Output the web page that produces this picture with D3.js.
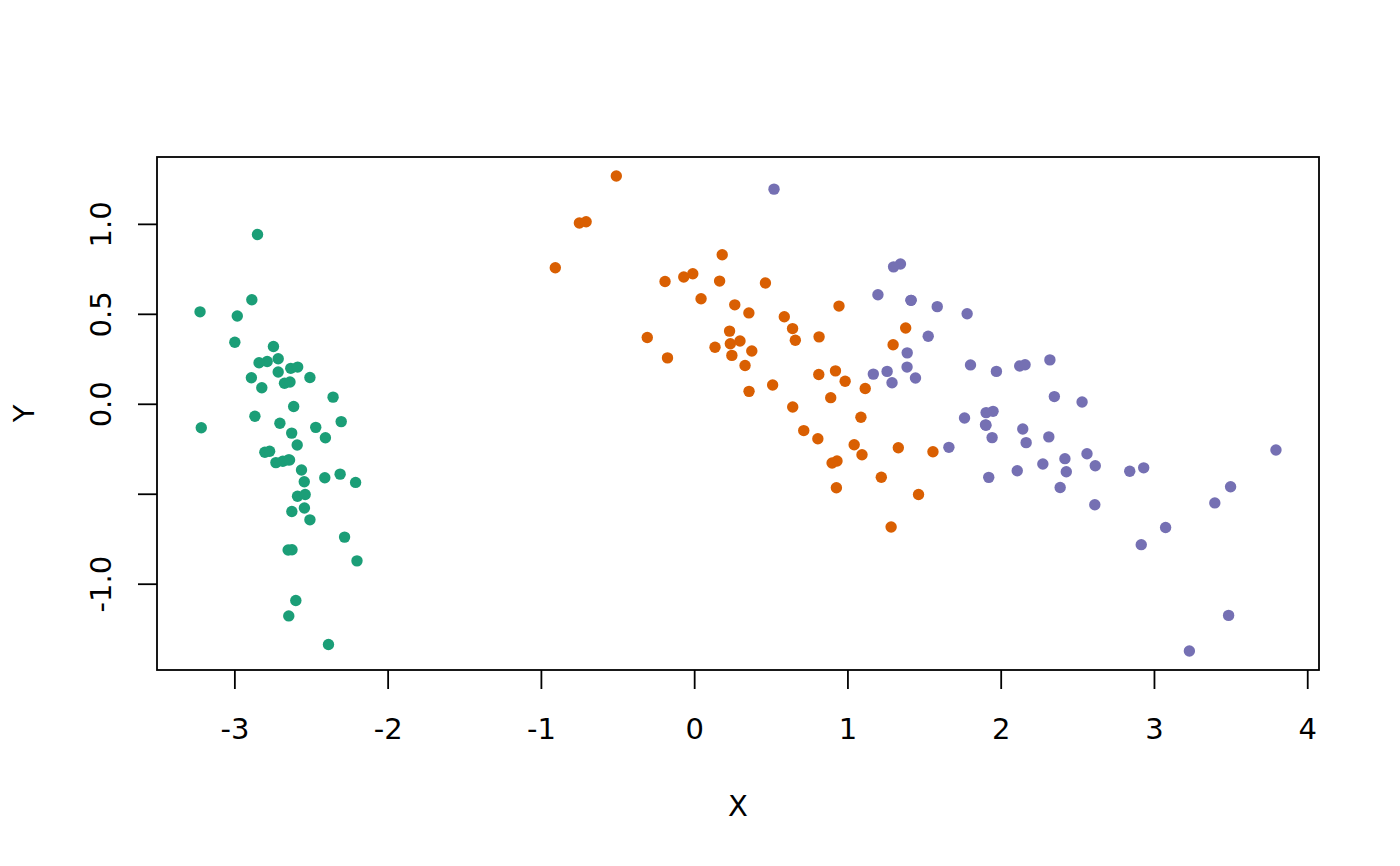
<!DOCTYPE html>
<html>
<head>
<meta charset="utf-8">
<script src="https://cdn.jsdelivr.net/npm/d3@7"></script>
<style>
  body { margin: 0; background: #fff; }
  text { font-family: "DejaVu Sans", sans-serif; fill: #000; }
</style>
</head>
<body>
<div id="chart"></div>
<script>
// three groups, first two principal components
var setosaX = [-2.684,-2.714,-2.889,-2.745,-2.729,-2.281,-2.821,-2.626,-2.886,-2.673,-2.507,-2.613,-2.786,-3.224,-2.645,-2.386,-2.624,-2.648,-2.200,-2.588,-2.310,-2.544,-3.216,-2.303,-2.356,-2.507,-2.469,-2.562,-2.640,-2.632,-2.587,-2.410,-2.649,-2.599,-2.637,-2.866,-2.625,-2.801,-2.981,-2.590,-2.770,-2.849,-2.997,-2.406,-2.209,-2.714,-2.538,-2.839,-2.543,-2.703];
var setosaY = [-0.319,0.177,0.145,0.318,-0.327,-0.741,0.089,-0.163,0.578,0.114,-0.645,-0.015,0.235,0.511,-1.179,-1.338,-0.811,-0.312,-0.873,-0.514,-0.391,-0.433,-0.133,-0.099,0.037,0.146,-0.131,-0.368,-0.312,0.197,0.204,-0.411,-0.813,-1.093,0.121,-0.069,-0.599,-0.269,0.488,-0.229,-0.264,0.941,0.342,-0.189,-0.437,0.250,-0.504,0.228,-0.579,-0.108];

var versicolorX = [1.285,0.932,1.464,0.183,1.088,0.642,1.095,-0.749,1.044,-0.009,-0.508,0.512,0.265,0.985,-0.174,0.928,0.660,0.236,0.945,0.045,1.116,0.358,1.298,0.922,0.715,0.900,1.332,1.558,0.813,-0.306,-0.068,-0.190,0.136,1.380,0.588,0.807,1.221,0.815,0.246,0.166,0.465,0.891,0.231,-0.705,0.357,0.332,0.376,0.643,-0.906,0.299];
var versicolorY = [-0.685,-0.318,-0.504,0.828,-0.075,0.418,-0.283,1.005,-0.228,0.723,1.266,0.104,0.550,0.125,0.255,-0.467,0.353,0.334,0.543,0.584,0.085,0.069,0.328,0.183,-0.149,-0.329,-0.244,-0.267,0.163,0.368,0.705,0.680,0.314,0.421,0.484,-0.194,-0.408,0.372,0.269,0.682,0.671,0.034,0.404,1.012,0.505,0.213,0.293,-0.018,0.756,0.349];

var virginicaX = [2.531,1.415,2.617,1.972,2.350,3.397,0.521,2.933,2.321,2.917,1.662,1.803,2.166,1.346,1.586,1.904,1.950,3.487,3.796,1.301,2.428,1.199,3.500,1.389,2.275,2.614,1.259,1.291,2.124,2.388,2.842,3.231,2.159,1.444,1.781,3.076,2.144,1.905,1.169,2.108,2.314,1.922,1.415,2.563,2.419,1.944,1.527,1.764,1.901,1.390];
var virginicaY = [0.010,0.575,-0.344,0.180,0.040,-0.551,1.193,-0.356,0.244,-0.783,-0.242,0.216,-0.216,0.777,0.540,-0.119,-0.042,-1.176,-0.257,0.761,-0.378,0.606,-0.461,0.204,-0.335,-0.561,0.180,0.117,0.210,-0.465,-0.375,-1.374,0.217,0.143,0.500,-0.688,-0.140,-0.049,0.165,-0.372,-0.184,-0.409,0.575,-0.278,-0.305,-0.188,0.375,-0.079,-0.117,0.283];

var groupColors = ["#1B9E77", "#D95F02", "#7570B3"];
var xTicks = [-3, -2, -1, 0, 1, 2, 3, 4];
var xTickLabels = ["-3", "-2", "-1", "0", "1", "2", "3", "4"];
var yTicks = [-1.0, -0.5, 0.0, 0.5, 1.0];
var yTickLabels = ["-1.0", "", "0.0", "0.5", "1.0"];   // R drops the -0.5 label
var xTitle = "X", yTitle = "Y";

var W = 1400, H = 866;
var plotLeft = 157, plotRight = 1319, plotTop = 157, plotBottom = 670;

// build point list, groups drawn in order
var points = [];
[[setosaX, setosaY], [versicolorX, versicolorY], [virginicaX, virginicaY]].forEach(function(g, gi) {
	for (var i = 0; i < g[0].length; i++) points.push({x: g[0][i], y: g[1][i], g: gi});
});

// R style 4% padding on the data range
function pad(ext) {
	var d = (ext[1] - ext[0]) * 0.04;
	return [ext[0] - d, ext[1] + d];
}

var x = d3.scaleLinear()
	.domain(pad(d3.extent(points, function(d) { return d.x; })))
	.range([plotLeft, plotRight]);
var y = d3.scaleLinear()
	.domain(pad(d3.extent(points, function(d) { return d.y; })))
	.range([plotBottom, plotTop]);

var svg = d3.select("#chart").append("svg")
	.attr("width", W)
	.attr("height", H);

// x axis
var xAxis = svg.append("g")
	.attr("transform", "translate(0," + plotBottom + ")")
	.call(d3.axisBottom(x).tickValues(xTicks).tickSize(19).tickSizeOuter(0)
		.tickFormat(function(d, i) { return xTickLabels[i]; }));
xAxis.select(".domain").remove();
xAxis.selectAll("line").attr("stroke", "#000").attr("stroke-width", 1.8);
xAxis.selectAll("text")
	.attr("y", 69).attr("dy", 0)
	.style("font-size", "29px")
	.attr("fill", "#000")
	.style("font-family", "DejaVu Sans");

// y axis
var yAxis = svg.append("g")
	.attr("transform", "translate(" + plotLeft + ",0)")
	.call(d3.axisLeft(y).tickValues(yTicks).tickSize(19).tickSizeOuter(0)
		.tickFormat(function(d, i) { return yTickLabels[i]; }));
yAxis.select(".domain").remove();
yAxis.selectAll("line").attr("stroke", "#000").attr("stroke-width", 1.8);
yAxis.selectAll(".tick").each(function() {
	// rotate label around its tick position
	var t = d3.select(this).select("text");
	t.attr("x", 0).attr("y", 0).attr("dy", 0)
		.attr("text-anchor", "middle")
		.attr("transform", "translate(-46,0) rotate(-90)")
		.style("font-size", "29px")
		.attr("fill", "#000")
		.style("font-family", "DejaVu Sans");
});

// points
svg.append("g").selectAll("circle")
	.data(points)
	.enter().append("circle")
	.attr("cx", function(d) { return x(d.x); })
	.attr("cy", function(d) { return y(d.y); })
	.attr("r", 5.7)
	.attr("fill", function(d) { return groupColors[d.g]; });

// box
svg.append("rect")
	.attr("x", plotLeft).attr("y", plotTop)
	.attr("width", plotRight - plotLeft).attr("height", plotBottom - plotTop)
	.attr("fill", "none")
	.attr("stroke", "#000")
	.attr("stroke-width", 1.8);

// axis titles
svg.append("text")
	.attr("x", (plotLeft + plotRight) / 2).attr("y", 816)
	.attr("text-anchor", "middle")
	.style("font-size", "29px")
	.text(xTitle);
svg.append("text")
	.attr("transform", "translate(34," + ((plotTop + plotBottom) / 2) + ") rotate(-90)")
	.attr("text-anchor", "middle")
	.style("font-size", "29px")
	.text(yTitle);
</script>
</body>
</html>
